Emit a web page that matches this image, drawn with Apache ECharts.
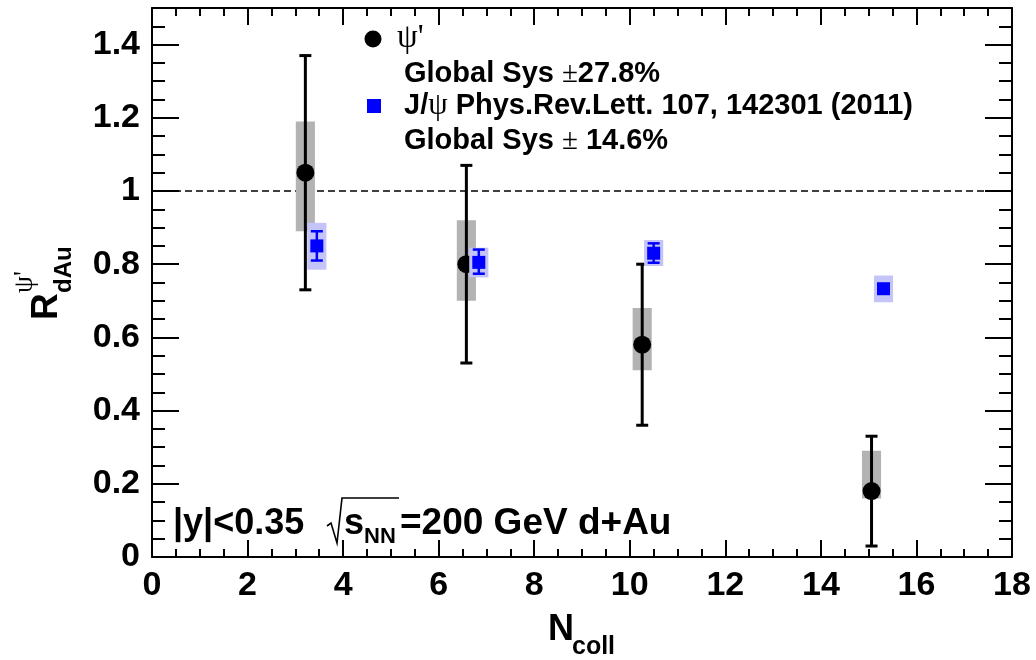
<!DOCTYPE html>
<html><head><meta charset="utf-8">
<script src="https://cdn.jsdelivr.net/npm/echarts@6/dist/echarts.min.js"></script>
<style>html,body{margin:0;padding:0;background:#fff}#c{width:1036px;height:660px}</style>
</head><body><div id="c"></div>
<script>
// ---- data ----
const psiX      = [3.21, 6.58, 10.26, 15.06];
const psiY      = [1.05, 0.80, 0.58, 0.18];
const psiStatLo = [0.73, 0.53, 0.36, 0.03];
const psiStatHi = [1.37, 1.07, 0.80, 0.33];
const psiSysLo  = [0.89, 0.70, 0.51, 0.16];
const psiSysHi  = [1.19, 0.92, 0.68, 0.29];

const jpsiX      = [3.45, 6.84, 10.50, 15.31];
const jpsiY      = [0.85, 0.805, 0.83, 0.733];
const jpsiStatLo = [0.81, 0.774, 0.804, 0.72];
const jpsiStatHi = [0.89, 0.84, 0.857, 0.745];
const jpsiSysLo  = [0.785, 0.764, 0.795, 0.696];
const jpsiSysHi  = [0.913, 0.845, 0.866, 0.769];

const xRange = [0, 18], xStep = 2;
const yRange = [0, 1.5], yStep = 0.2;
const refLine = 1;

const legendTexts = ["ψ'", "Global Sys ±27.8%", "J/ψ Phys.Rev.Lett. 107, 142301 (2011)", "Global Sys ± 14.6%"];

// ---- chart ----
const SANS = '"Liberation Sans", Arial, Helvetica, sans-serif';
const SERIF = '"Liberation Serif", "DejaVu Serif", serif';
const chart = echarts.init(document.getElementById('c'), null, {renderer: 'canvas'});

function boxRenderer(fill, halfW) {
  return function (params, api) {
    const x = api.value(0), lo = api.value(1), hi = api.value(2);
    const a = api.coord([x - halfW, hi]), b = api.coord([x + halfW, lo]);
    return {type: 'rect', shape: {x: a[0], y: a[1], width: b[0] - a[0], height: b[1] - a[1]}, style: {fill: fill}};
  };
}
function errRenderer(color, lw, capHalf) {
  return function (params, api) {
    const x = api.value(0);
    const lo = api.coord([x, api.value(1)]), hi = api.coord([x, api.value(2)]);
    const st = {stroke: color, lineWidth: lw};
    return {type: 'group', children: [
      {type: 'line', shape: {x1: lo[0], y1: lo[1], x2: hi[0], y2: hi[1]}, style: st},
      {type: 'line', shape: {x1: lo[0] - capHalf, y1: lo[1], x2: lo[0] + capHalf, y2: lo[1]}, style: st},
      {type: 'line', shape: {x1: hi[0] - capHalf, y1: hi[1], x2: hi[0] + capHalf, y2: hi[1]}, style: st}
    ]};
  };
}

const tickStyle = {color: '#000', width: 2};
function xAx(pos, showLabel) {
  return {
    type: 'value', position: pos, min: xRange[0], max: xRange[1], interval: xStep,
    axisLine: {show: true, onZero: false, lineStyle: {color: '#000', width: 2}},
    axisTick: {show: true, inside: true, length: 17, lineStyle: tickStyle},
    minorTick: {show: true, splitNumber: 4, length: 8, lineStyle: tickStyle},
    splitLine: {show: false},
    axisLabel: {show: showLabel, margin: 12, fontSize: 34, fontWeight: 'bold', fontFamily: SANS, color: '#000'}
  };
}
function yAx(pos, showLabel) {
  return {
    type: 'value', position: pos, min: yRange[0], max: yRange[1], interval: yStep,
    axisLine: {show: true, onZero: false, lineStyle: {color: '#000', width: 2}},
    axisTick: {show: true, inside: true, length: 27, lineStyle: tickStyle},
    minorTick: {show: true, splitNumber: 4, length: 13, lineStyle: tickStyle},
    splitLine: {show: false},
    axisLabel: {show: showLabel, showMaxLabel: false, margin: 12, fontSize: 34, fontWeight: 'bold', fontFamily: SANS, color: '#000'}
  };
}

const option = {
  animation: false,
  backgroundColor: '#fff',
  grid: {left: 152, right: 24, top: 8, bottom: 103, containLabel: false, outerBoundsMode: 'none'},
  xAxis: [xAx('bottom', true), xAx('top', false)],
  yAxis: [yAx('left', true), yAx('right', false)],
  series: [
    {
      type: 'custom', name: 'psiSys', z: 3, renderItem: boxRenderer('#b3b3b3', 0.2),
      encode: {x: 0, y: [1, 2]},
      data: psiX.map((x, i) => [x, psiSysLo[i], psiSysHi[i]]),
      markLine: {
        silent: true, symbol: 'none', z: 1, label: {show: false},
        lineStyle: {type: [7, 4], color: '#000', width: 1.5},
        data: [{yAxis: refLine}]
      }
    },
    {
      type: 'custom', name: 'psiErr', z: 4, renderItem: errRenderer('#000', 3, 6),
      encode: {x: 0, y: [1, 2]},
      data: psiX.map((x, i) => [x, psiStatLo[i], psiStatHi[i]])
    },
    {
      type: 'scatter', name: "ψ'", z: 5, symbol: 'circle', symbolSize: 18,
      itemStyle: {color: '#000', opacity: 1},
      data: psiX.map((x, i) => [x, psiY[i]])
    },
    {
      type: 'custom', name: 'jpsiSys', z: 6, renderItem: boxRenderer('#c4c4f8', 0.2),
      encode: {x: 0, y: [1, 2]},
      data: jpsiX.map((x, i) => [x, jpsiSysLo[i], jpsiSysHi[i]])
    },
    {
      type: 'custom', name: 'jpsiErr', z: 7, renderItem: errRenderer('#0000ff', 2.5, 6),
      encode: {x: 0, y: [1, 2]},
      data: jpsiX.map((x, i) => [x, jpsiStatLo[i], jpsiStatHi[i]])
    },
    {
      type: 'scatter', name: 'J/ψ', z: 8, symbol: 'rect', symbolSize: 13,
      itemStyle: {color: '#0000ff', opacity: 1},
      data: jpsiX.map((x, i) => [x, jpsiY[i]])
    }
  ],
  graphic: [
    // legend
    {type: 'circle', z: 100, shape: {cx: 373, cy: 39, r: 8.5}, style: {fill: '#000'}},
    {type: 'text', z: 100, x: 397, y: 38, style: {text: legendTexts[0], font: '33px ' + SERIF, fill: '#000', verticalAlign: 'middle'}},
    {type: 'text', z: 100, x: 404, y: 74, style: {
      text: '{b|Global Sys }{s|±}{b|27.8%}', verticalAlign: 'middle', fill: '#000',
      rich: {b: {fontSize: 29, fontWeight: 'bold', fontFamily: SANS}, s: {fontSize: 29, fontFamily: SERIF}}}},
    {type: 'rect', z: 100, shape: {x: 367, y: 99, width: 14, height: 14}, style: {fill: '#0000ff'}},
    {type: 'text', z: 100, x: 404, y: 106, style: {
      text: '{b|J/}{p|ψ}{b| Phys.Rev.Lett. 107, 142301 (2011)}', verticalAlign: 'middle', fill: '#000',
      rich: {b: {fontSize: 29, fontWeight: 'bold', fontFamily: SANS}, p: {fontSize: 31, fontFamily: SERIF}}}},
    {type: 'text', z: 100, x: 404, y: 141, style: {
      text: '{b|Global Sys }{s|±}{b| 14.6%}', verticalAlign: 'middle', fill: '#000',
      rich: {b: {fontSize: 29, fontWeight: 'bold', fontFamily: SANS}, s: {fontSize: 29, fontFamily: SERIF}}}},
    // annotation
    {type: 'text', z: 100, x: 173, y: 524, style: {text: '|y|<0.35', font: 'bold 36px ' + SANS, fill: '#000', verticalAlign: 'middle'}},
    {type: 'polyline', z: 100, shape: {points: [[327, 526], [331, 523], [337, 543], [342, 498], [399, 498]]}, style: {stroke: '#000', lineWidth: 1.6, fill: null}},
    {type: 'text', z: 100, x: 344, y: 524, style: {text: 's', font: 'bold 36px ' + SANS, fill: '#000', verticalAlign: 'middle'}},
    {type: 'text', z: 100, x: 364, y: 537, style: {text: 'NN', font: 'bold 22px ' + SANS, fill: '#000', verticalAlign: 'middle'}},
    {type: 'text', z: 100, x: 400, y: 524, style: {text: '=200 GeV d+Au', font: 'bold 37px ' + SANS, fill: '#000', verticalAlign: 'middle'}},
    // x title
    {type: 'text', z: 100, x: 548, y: 630, style: {text: 'N', font: 'bold 36px ' + SANS, fill: '#000', verticalAlign: 'middle'}},
    {type: 'text', z: 100, x: 572, y: 647, style: {text: 'coll', font: 'bold 25px ' + SANS, fill: '#000', verticalAlign: 'middle'}},
    // y title (rotated)
    {type: 'text', z: 100, x: 47, y: 320, rotation: Math.PI / 2, style: {text: 'R', font: 'bold 37px ' + SANS, fill: '#000', verticalAlign: 'middle', align: 'left'}},
    {type: 'text', z: 100, x: 64, y: 293, rotation: Math.PI / 2, style: {text: 'dAu', font: 'bold 24px ' + SANS, fill: '#000', verticalAlign: 'middle', align: 'left'}},
    {type: 'text', z: 100, x: 25, y: 293, rotation: Math.PI / 2, style: {text: "ψ'", font: '27px ' + SERIF, fill: '#000', verticalAlign: 'middle', align: 'left'}}
  ]
};
chart.setOption(option);
</script>
</body></html>
